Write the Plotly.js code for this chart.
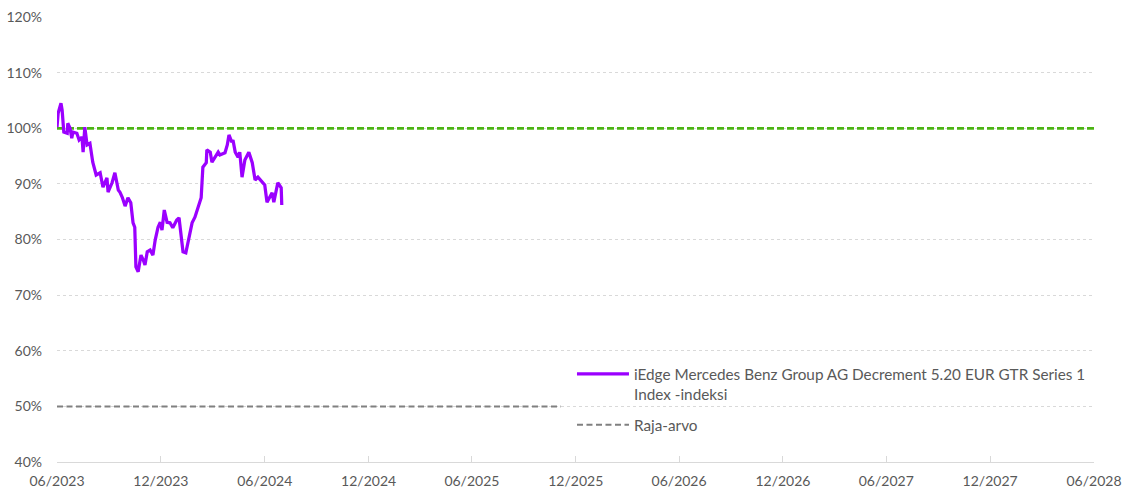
<!DOCTYPE html>
<html>
<head>
<meta charset="utf-8">
<script src="https://cdn.plot.ly/plotly-3.0.1.min.js"></script>
<style>html,body{margin:0;padding:0;background:#fff;}#chart{width:1124px;height:494px;}</style>
</head>
<body>
<div id="chart"></div>
<script>
const indexDates = [
 "2023-06-01","2023-06-03","2023-06-08","2023-06-10","2023-06-13","2023-06-19","2023-06-20","2023-06-24","2023-06-27","2023-06-29",
 "2023-07-06","2023-07-10","2023-07-15","2023-07-17","2023-07-20","2023-07-24","2023-07-29","2023-08-03","2023-08-09","2023-08-16",
 "2023-08-21","2023-08-28","2023-08-30","2023-09-06","2023-09-11","2023-09-17","2023-09-20","2023-09-24","2023-09-29","2023-10-04",
 "2023-10-09","2023-10-13","2023-10-16","2023-10-18","2023-10-22","2023-10-27","2023-10-31","2023-11-03","2023-11-07","2023-11-12",
 "2023-11-17","2023-11-21","2023-11-26","2023-11-30","2023-12-03","2023-12-07","2023-12-12","2023-12-17","2023-12-22","2023-12-29",
 "2024-01-02","2024-01-06","2024-01-09","2024-01-14","2024-01-18","2024-01-25","2024-01-30","2024-02-04","2024-02-10","2024-02-13",
 "2024-02-19","2024-02-20","2024-02-26","2024-02-29","2024-03-05","2024-03-11","2024-03-14","2024-03-23","2024-03-27","2024-03-30",
 "2024-04-04","2024-04-06","2024-04-10","2024-04-15","2024-04-18","2024-04-22","2024-04-27","2024-05-04","2024-05-10","2024-05-15",
 "2024-05-20","2024-05-27","2024-06-01","2024-06-05","2024-06-10","2024-06-14","2024-06-17","2024-06-21","2024-06-24","2024-06-30",
 "2024-07-01"
];
const indexValues = [
 100.2,102.7,104.5,103.3,99.3,99.1,100.9,100.0,98.2,99.3,
 99.1,97.9,98.4,95.7,100.2,97.0,97.3,93.9,91.6,92.0,
 89.4,91.1,88.5,90.2,92.0,88.9,88.5,87.6,86.0,87.5,
 86.6,83.0,82.2,75.1,74.2,77.2,76.3,75.4,77.8,78.1,
 77.2,79.9,82.2,83.1,81.7,85.3,83.1,83.0,82.1,83.5,
 83.9,80.8,77.8,77.6,79.4,83.0,84.0,85.7,87.5,93.0,
 93.8,96.1,95.7,93.9,94.7,95.7,95.2,95.6,97.0,98.8,
 97.5,97.9,95.7,94.8,95.7,91.2,94.3,95.7,93.8,90.7,
 91.2,90.3,89.8,86.7,87.6,88.4,86.7,88.5,90.2,89.3,
 86.2
];
const barrierDates = ["2023-06-01","2025-11-05"];
const barrierValues = [50, 50];
const initialDates = ["2023-06-01","2028-06-01"];
const initialValues = [100, 100];
const seriesNames = ["iEdge Mercedes Benz Group AG Decrement 5.20 EUR GTR Series 1<br>Index -indeksi", "Raja-arvo"];
const yTicks = [40,50,60,70,80,90,100,110,120];
const yTickText = ["40%","50%","60%","70%","80%","90%","100%","110%","120%"];

const font = {family: "Lato, 'Open Sans', sans-serif", size: 14, color: "#595959"};
const legendFont = {family: "Lato, 'Open Sans', sans-serif", size: 15.3, color: "#595959"};

const traces = [
 {x: initialDates, y: initialValues, mode: "lines", showlegend: false, hoverinfo: "skip",
  line: {color: "#4CB414", width: 2.75, dash: "7px,3px"}},
 {x: indexDates, y: indexValues, mode: "lines", name: seriesNames[0], legendgroup: "a",
  line: {color: "#9B00FF", width: 3.25}},
 {x: barrierDates, y: barrierValues, mode: "lines", name: seriesNames[1], legendgroup: "b",
  line: {color: "#808080", width: 2, dash: "6px,3.5px"}}
];

const layout = {
 width: 1124, height: 494,
 margin: {l: 57, r: 30, t: 17, b: 32},
 paper_bgcolor: "#fff", plot_bgcolor: "#fff",
 font: font,
 xaxis: {
  type: "date", range: ["2023-06-01","2028-06-01"],
  tick0: "2023-06-01", dtick: "M6", tickformat: "%m/%Y",
  showgrid: false, zeroline: false,
  showline: true, linecolor: "#d9d9d9", linewidth: 1,
  ticks: "inside", ticklen: 6, tickcolor: "#d9d9d9",
  ticklabelstandoff: 6, tickfont: font
 },
 yaxis: {
  range: [40, 120], tickvals: yTicks, ticktext: yTickText,
  showgrid: true, gridcolor: "#d9d9d9", griddash: "dot", gridwidth: 1,
  zeroline: false, showline: false, ticks: "",
  ticklabelstandoff: 14, tickfont: font
 },
 legend: {
  x: 0.4966, y: 0.235, xanchor: "left", yanchor: "top",
  bgcolor: "rgba(255,255,255,0)", font: legendFont,
  traceorder: "grouped", tracegroupgap: 8, itemwidth: 52, valign: "top"
 },
 showlegend: true
};

Plotly.newPlot("chart", traces, layout, {displayModeBar: false, staticPlot: true});
</script>
</body>
</html>
